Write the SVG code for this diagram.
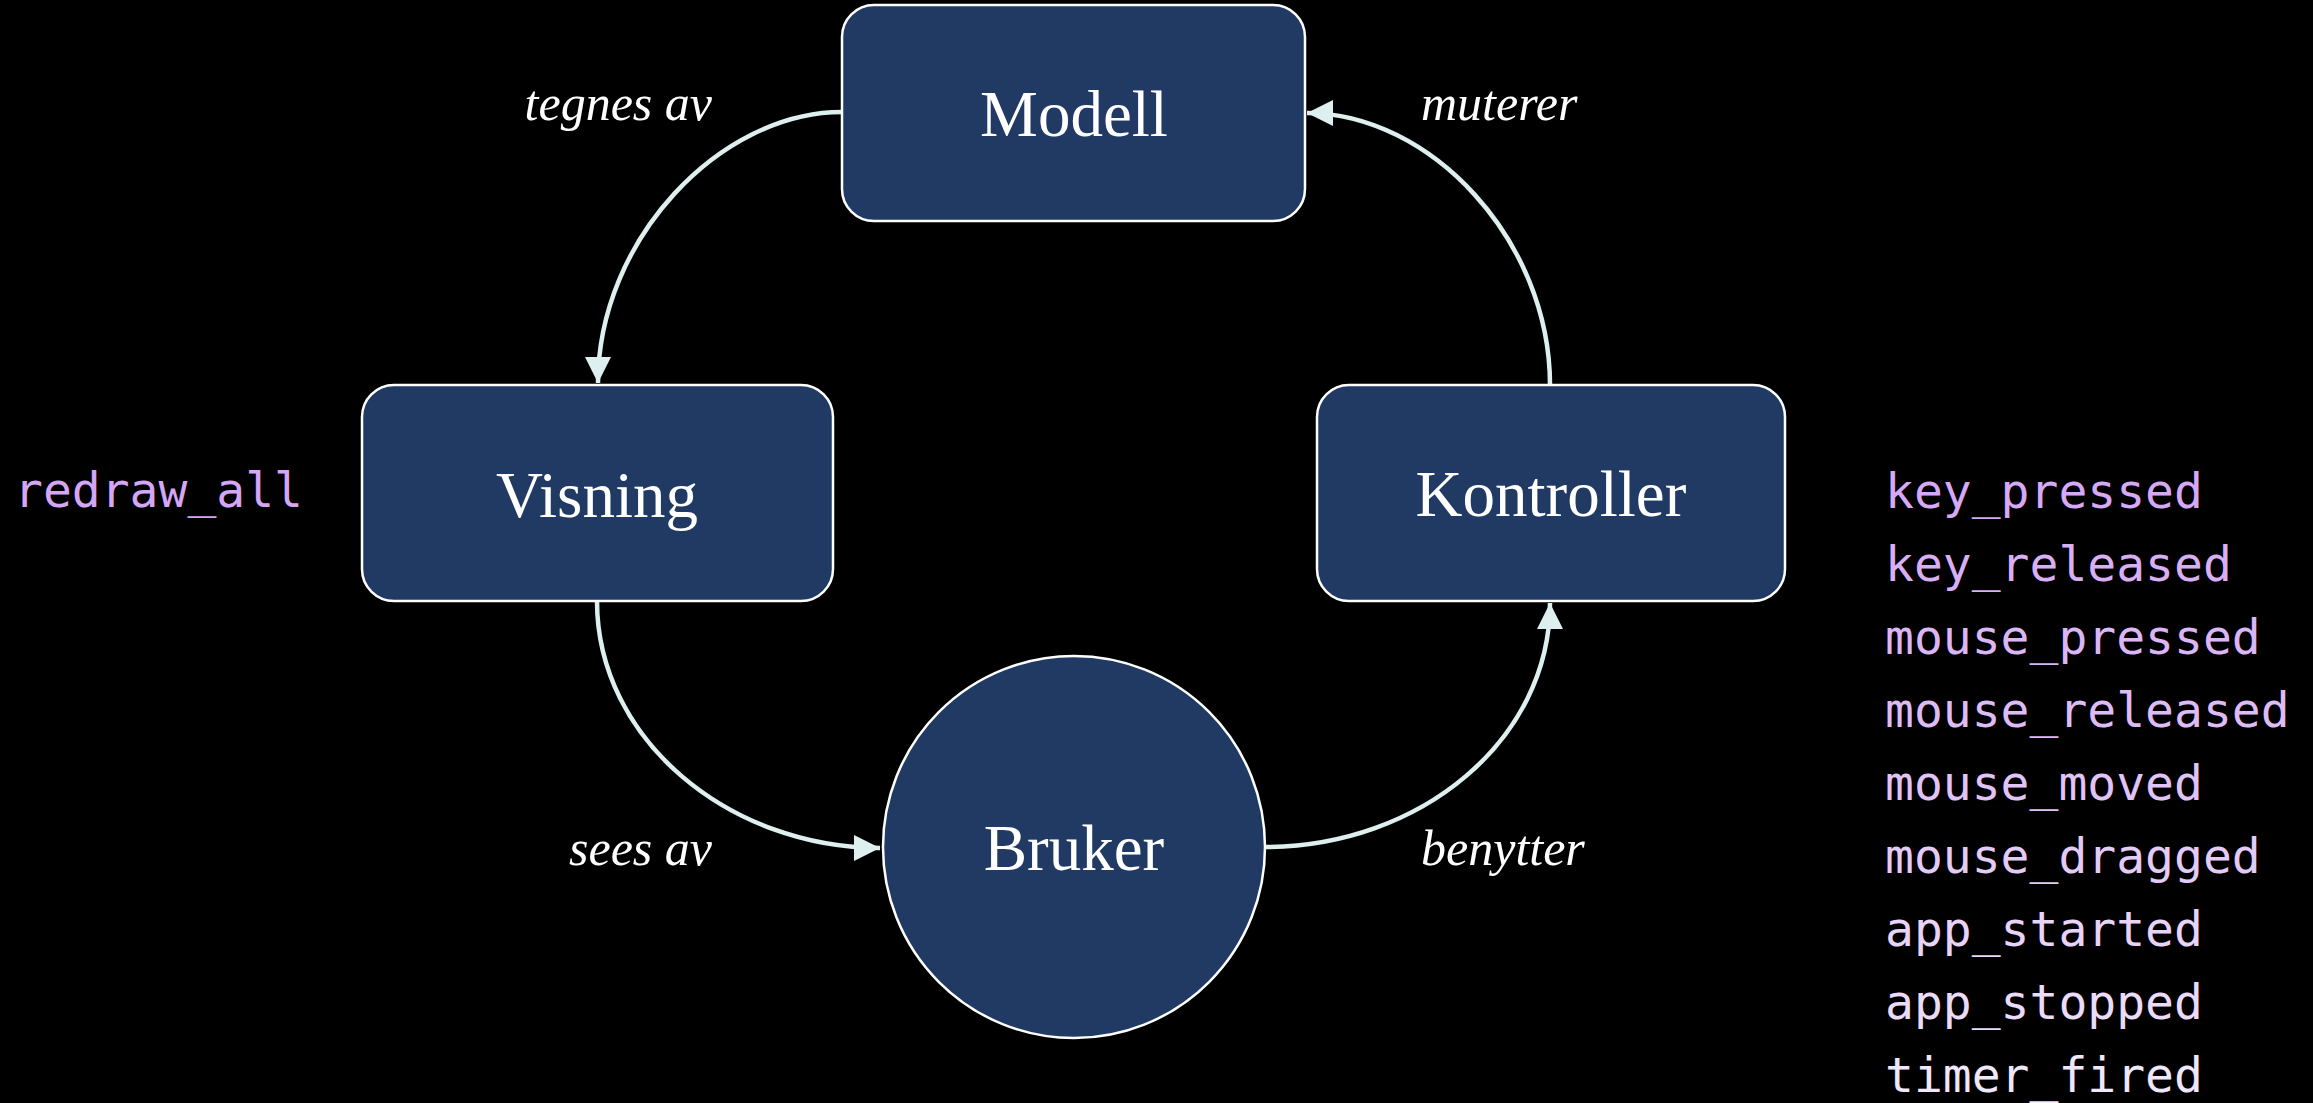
<svg xmlns="http://www.w3.org/2000/svg" width="2313" height="1103" viewBox="0 0 2313 1103">
<style>
.node{fill:#213a64;stroke:#ffffff;stroke-width:2.5}
.nlabel{font-family:"Liberation Serif",serif;font-size:65px;fill:#ffffff;text-anchor:middle}
.elabel{font-family:"Liberation Serif",serif;font-style:italic;font-size:50px;fill:#ffffff}
.edge{fill:none;stroke:#ddefef;stroke-width:4.5}
.mono{font-family:"DejaVu Sans Mono",monospace;font-size:48px}
</style>
<defs>
<marker id="arrow" markerUnits="userSpaceOnUse" markerWidth="28" markerHeight="28" refX="26" refY="13" orient="auto">
<path d="M0,0 L26,13 L0,26 z" fill="#ddefef"/>
</marker>
</defs>
<rect width="2313" height="1103" fill="#000000"/>
<g id="connectors">
<path class="edge" d="M842,112 C720,112 598,240 598,383" marker-end="url(#arrow)"/>
<path class="edge" d="M597,601 C597,740 730,848 880,848" marker-end="url(#arrow)"/>
<path class="edge" d="M1265,847 C1420,847 1550,740 1550,603" marker-end="url(#arrow)"/>
<path class="edge" d="M1550,385 C1550,240 1430,113 1307,113" marker-end="url(#arrow)"/>
<text class="elabel" x="712" y="120" text-anchor="end">tegnes av</text>
<text class="elabel" x="1421" y="120">muterer</text>
<text class="elabel" x="712" y="865" text-anchor="end">sees av</text>
<text class="elabel" x="1421" y="865">benytter</text>
</g>
<g id="modell">
<rect class="node" x="842" y="5" width="463" height="216" rx="32"/>
<text class="nlabel" x="1074" y="136">Modell</text>
</g>
<g id="visning">
<rect class="node" x="362" y="385" width="471" height="216" rx="32"/>
<text class="nlabel" x="597" y="517">Visning</text>
</g>
<g id="kontroller">
<rect class="node" x="1317" y="385" width="468" height="216" rx="32"/>
<text class="nlabel" x="1551" y="516">Kontroller</text>
</g>
<g id="bruker">
<circle class="node" cx="1074" cy="847" r="191"/>
<text class="nlabel" x="1074" y="870">Bruker</text>
</g>
<g id="redraw">
<text class="mono" x="14" y="507" fill="#d4a6f5">redraw_all</text>
</g>
<g id="events">
<text class="mono" x="1885" y="508" fill="#d5a9f5">key_pressed</text>
<text class="mono" x="1885" y="581" fill="#d8aff5">key_released</text>
<text class="mono" x="1885" y="654" fill="#dbb6f6">mouse_pressed</text>
<text class="mono" x="1885" y="727" fill="#ddbcf6">mouse_released</text>
<text class="mono" x="1885" y="800" fill="#e0c3f7">mouse_moved</text>
<text class="mono" x="1885" y="873" fill="#e3cbf7">mouse_dragged</text>
<text class="mono" x="1885" y="946" fill="#e7d4f8">app_started</text>
<text class="mono" x="1885" y="1019" fill="#eadcf9">app_stopped</text>
<text class="mono" x="1885" y="1092" fill="#efe8fa">timer_fired</text>
</g>
</svg>
